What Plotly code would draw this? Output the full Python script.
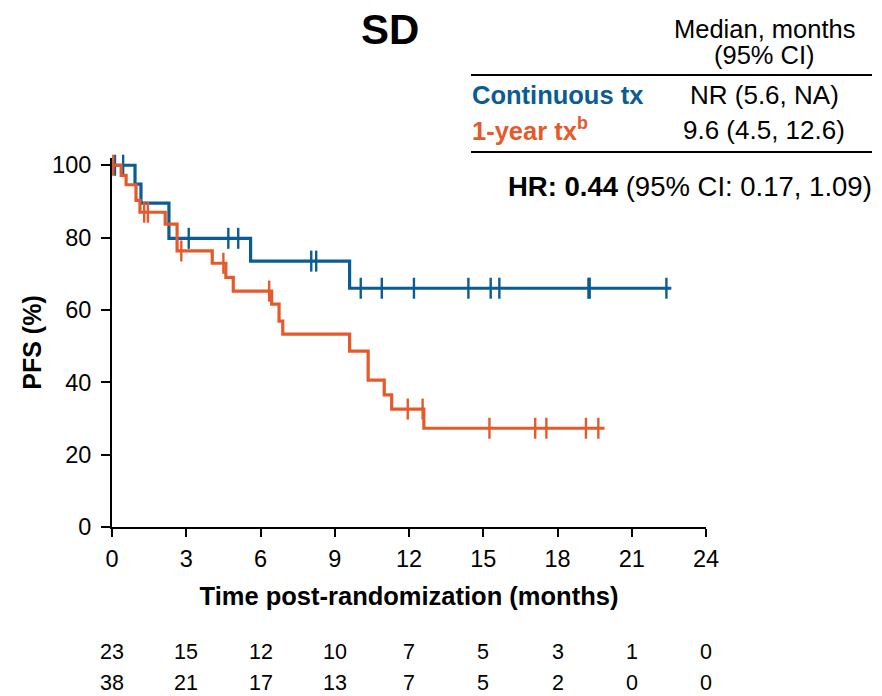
import plotly.graph_objects as go

# ---------------- data ----------------
blue_times = [0, 0.93, 1.17, 2.3, 5.6, 9.6]
blue_surv = [100, 94.8, 89.5, 79.8, 73.5, 66.0]
blue_end = 22.6
blue_censor = [0.12, 0.45, 3.1, 4.7, 5.1, 8.05, 8.25, 10.05, 10.9, 12.2, 14.4,
               15.3, 15.65, 19.25, 19.3, 22.4]

orange_times = [0, 0.37, 0.57, 0.97, 1.13, 2.15, 2.63, 4.05, 4.6, 4.9, 6.45,
                6.75, 6.9, 9.6, 10.35, 11.0, 11.3, 12.6]
orange_surv = [100, 97.2, 94.6, 90.3, 87.0, 83.7, 76.3, 72.9, 69.0, 65.2, 61.6,
               56.9, 53.3, 48.6, 40.6, 36.5, 32.6, 27.3]
orange_end = 19.9
orange_censor = [0.05, 1.3, 1.45, 2.8, 4.5, 6.35, 11.95, 12.55, 15.25, 17.1,
                 17.55, 19.15, 19.65]

x_ticks = [0, 3, 6, 9, 12, 15, 18, 21, 24]
y_ticks = [0, 20, 40, 60, 80, 100]
risk_blue = [23, 15, 12, 10, 7, 5, 3, 1, 0]
risk_orange = [38, 21, 17, 13, 7, 5, 2, 0, 0]

BLUE = "#0B5C94"
ORANGE = "#E6592A"
FONT = "Arial, Liberation Sans, sans-serif"


def surv_at(times, surv, t):
    s = surv[0]
    for ti, si in zip(times, surv):
        if ti <= t:
            s = si
    return s


fig = go.Figure()
for times, surv, end, cens, col in [
    (blue_times, blue_surv, blue_end, blue_censor, BLUE),
    (orange_times, orange_surv, orange_end, orange_censor, ORANGE),
]:
    fig.add_trace(go.Scatter(
        x=times + [end], y=surv + [surv[-1]], mode="lines",
        line=dict(color=col, width=3.2, shape="hv"), showlegend=False,
        hoverinfo="skip"))
    fig.add_trace(go.Scatter(
        x=cens, y=[surv_at(times, surv, c) for c in cens], mode="markers",
        marker=dict(symbol="line-ns", size=15, line=dict(color=col, width=2.4)),
        showlegend=False, cliponaxis=False, hoverinfo="skip"))

# plot area in pixels: x 112..706, y 158..527
W, H = 882, 696
L, R, T, B = 112, 706, 158, 527
pw, ph = R - L, B - T


def px(xp):
    return (xp - L) / pw


def py(yp):
    return (B - yp) / ph


fig.update_layout(
    width=W, height=H,
    margin=dict(l=L, r=W - R, t=T, b=H - B, pad=0),
    plot_bgcolor="white", paper_bgcolor="white",
    font=dict(family=FONT, size=23.5, color="black"),
    xaxis=dict(range=[0, 24], tickvals=x_ticks, ticktext=[str(v) for v in x_ticks],
               showline=True, linecolor="black", linewidth=2, ticks="outside",
               ticklen=8, tickwidth=2, tickcolor="black", showgrid=False,
               zeroline=False, tickfont=dict(size=23.5), ticklabelstandoff=2,
               title=dict(text="<b>Time post-randomization (months)</b>",
                          font=dict(size=25.5), standoff=16)),
    yaxis=dict(range=[0, 102], tickvals=y_ticks, ticktext=[str(v) for v in y_ticks],
               showline=True, linecolor="black", linewidth=2, ticks="outside",
               ticklen=9, tickwidth=2, tickcolor="black", showgrid=False,
               zeroline=False, tickfont=dict(size=23.5), ticklabelstandoff=5,
               title=dict(text="<b>PFS (%)</b>", font=dict(size=25), standoff=3)),
)

ann = []


def add(text, xp, yp, size, color="black", xanchor="center", yanchor="middle"):
    ann.append(dict(text=text, x=px(xp), y=py(yp), xref="paper", yref="paper",
                    showarrow=False, font=dict(size=size, color=color),
                    xanchor=xanchor, yanchor=yanchor, borderpad=0))


add("<b>SD</b>", 390, 30, 42)
add("Median, months", 764, 44, 25.5, yanchor="bottom")
add("(95% CI)", 764, 40, 25.5, yanchor="top")
add("<b>Continuous tx</b>", 471, 95, 25.5, BLUE, "left")
add("NR (5.6, NA)", 764, 95, 26)
add("<b>1-year tx<sup>b</sup></b>", 471, 129, 25.5, ORANGE, "left")
add("9.6 (4.5, 12.6)", 764, 130, 26)
add("<b>HR: 0.44</b> (95% CI: 0.17, 1.09)", 873, 186, 27.5, "black", "right")

for xv, rb, ro in zip(x_ticks, risk_blue, risk_orange):
    ann.append(dict(text=str(rb), x=xv, y=py(652), xref="x", yref="paper", showarrow=False,
                    font=dict(size=21.5), xanchor="center", yanchor="middle"))
    ann.append(dict(text=str(ro), x=xv, y=py(696), xref="x", yref="paper", showarrow=False,
                    font=dict(size=21.5), xanchor="center", yanchor="bottom", borderpad=0))
fig.update_layout(annotations=ann)

fig.update_layout(shapes=[
    dict(type="line", xref="paper", yref="paper", x0=px(471), x1=px(872), y0=py(75), y1=py(75),
         line=dict(color="black", width=2)),
    dict(type="line", xref="paper", yref="paper", x0=px(471), x1=px(872), y0=py(152), y1=py(152),
         line=dict(color="black", width=2)),
])

fig.write_html("out.html")
